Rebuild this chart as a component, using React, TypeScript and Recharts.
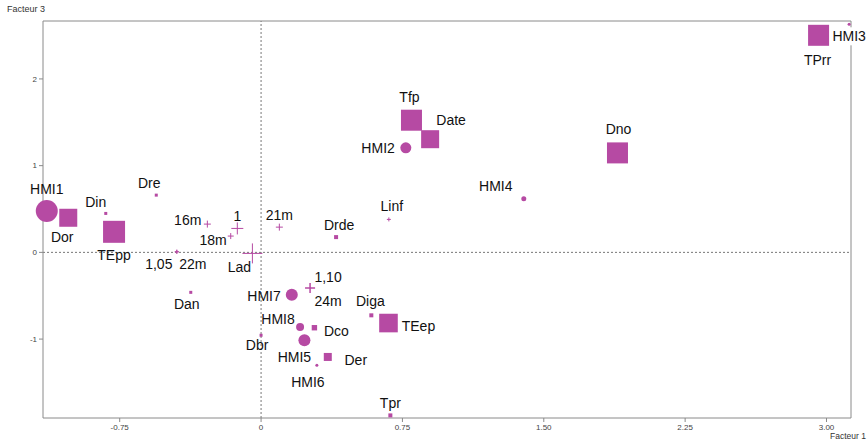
import React from 'react';
import { ScatterChart, Scatter, XAxis, YAxis, ReferenceLine } from 'recharts';

// individuals (circles)
const circleNames = ['HMI1', 'HMI2', 'HMI3', 'HMI4', 'HMI5', 'HMI6', 'HMI7', 'HMI8'];
const circleX = [-1.137, 0.768, 3.12, 1.394, 0.23, 0.296, 0.163, 0.207];
const circleY = [0.476, 1.205, 2.63, 0.617, -1.014, -1.302, -0.488, -0.861];

// active modalities (squares)
const squareNames = ['Dor', 'TEpp', 'Din', 'Dre', 'Dan', 'Dbr', 'Drde', 'Diga', 'TEep', 'Dco', 'Der', 'Tpr', 'Tfp', 'Date', 'Dno', 'TPrr'];
const squareX = [-1.023, -0.78, -0.824, -0.556, -0.373, 0.0, 0.398, 0.585, 0.676, 0.283, 0.354, 0.686, 0.798, 0.897, 1.891, 2.958];
const squareY = [0.399, 0.237, 0.449, 0.66, -0.461, -0.956, 0.176, -0.726, -0.815, -0.869, -1.206, -1.88, 1.524, 1.305, 1.147, 2.503];

// supplementary (crosses)
const plusNames = ['16m', '1', '18m', 'Lad', '21m', 'Linf', '1,10', '24m', '1,05', '22m'];
const plusX = [-0.285, -0.126, -0.161, -0.046, 0.097, 0.678, 0.26, 0.26, -0.447, -0.447];
const plusY = [0.326, 0.276, 0.188, -0.012, 0.291, 0.38, -0.411, -0.411, 0.007, 0.007];

const xTicks = [-0.75, 0, 0.75, 1.5, 2.25, 3];
const yTicks = [-1, 0, 1, 2];

const X_MIN = -1.157;
const X_MAX = 3.13;
const Y_MIN = -1.91;
const Y_MAX = 2.668;

const COLOR = '#b64aa3';
const AXIS = '#8a8a8a';
const FONT = '"Liberation Sans", Arial, sans-serif';

// marker half size + label placement
type Look = { s: number; dx: number; dy: number; anchor?: 'start' | 'middle' | 'end'; bg?: boolean };
const looks: Record<string, Look> = {
  HMI1: { s: 11, dx: 0, dy: -22 },
  HMI2: { s: 5.5, dx: -11, dy: 0, anchor: 'end' },
  HMI3: { s: 1.5, dx: 0, dy: 12, bg: true },
  HMI4: { s: 2.5, dx: -28, dy: -13 },
  HMI5: { s: 6, dx: -10, dy: 17 },
  HMI6: { s: 1.5, dx: -9, dy: 17 },
  HMI7: { s: 6, dx: -11, dy: 1, anchor: 'end' },
  HMI8: { s: 4, dx: -22, dy: -8 },
  Dor: { s: 9, dx: -6, dy: 19 },
  TEpp: { s: 11, dx: 0, dy: 23 },
  Din: { s: 1.5, dx: -10, dy: -11 },
  Dre: { s: 1.5, dx: -7, dy: -12 },
  Dan: { s: 1.5, dx: -4, dy: 12 },
  Dbr: { s: 1.5, dx: -4, dy: 10 },
  Drde: { s: 2, dx: 3, dy: -12 },
  Diga: { s: 2, dx: -1, dy: -14 },
  TEep: { s: 9.3, dx: 30, dy: 3 },
  Dco: { s: 2.7, dx: 22, dy: 3 },
  Der: { s: 4, dx: 28, dy: 3 },
  Tpr: { s: 2, dx: 0, dy: -12 },
  Tfp: { s: 10.5, dx: -2, dy: -23 },
  Date: { s: 9, dx: 21, dy: -19 },
  Dno: { s: 10.5, dx: 1, dy: -24 },
  TPrr: { s: 10.5, dx: -1, dy: 25 },
  '16m': { s: 3.5, dx: -6, dy: -4, anchor: 'end' },
  '1': { s: 6, dx: 0, dy: -12 },
  '18m': { s: 3, dx: -4, dy: 4, anchor: 'end' },
  Lad: { s: 10, dx: -13, dy: 14 },
  '21m': { s: 3.5, dx: 0, dy: -12 },
  Linf: { s: 2, dx: 3, dy: -13 },
  '1,10': { s: 5, dx: 18, dy: -11 },
  '24m': { s: 5, dx: 18, dy: 13 },
  '1,05': { s: 2, dx: -18, dy: 12 },
  '22m': { s: 2, dx: 16, dy: 12 },
};

const build = (names: string[], xs: number[], ys: number[]) =>
  names.map((name, i) => ({ name, x: xs[i], y: ys[i] }));

const circles = build(circleNames, circleX, circleY);
const squares = build(squareNames, squareX, squareY);
const pluses = build(plusNames, plusX, plusY);

const PointLabel = ({ cx, cy, name }: { cx: number; cy: number; name: string }) => {
  const l = looks[name];
  const x = cx + l.dx;
  const y = cy + l.dy;
  return (
    <g>
      {l.bg && <rect x={x - 18} y={y - 9} width={36} height={18} fill="#fff" />}
      <text
        x={x}
        y={y}
        textAnchor={l.anchor || 'middle'}
        dominantBaseline="central"
        fontSize={14}
        fontFamily={FONT}
        fill="#111"
      >
        {name}
      </text>
    </g>
  );
};

const makeShape = (kind: 'circle' | 'square' | 'plus') => (props: any) => {
  const { cx, cy, payload } = props;
  const s = looks[payload.name].s;
  let mark;
  if (kind === 'circle') mark = <circle cx={cx} cy={cy} r={s} fill={COLOR} />;
  else if (kind === 'square') mark = <rect x={cx - s} y={cy - s} width={2 * s} height={2 * s} fill={COLOR} />;
  else
    mark = (
      <g stroke={COLOR} strokeWidth={1}>
        <line x1={cx - s} y1={cy} x2={cx + s} y2={cy} />
        <line x1={cx} y1={cy - s} x2={cx} y2={cy + s} />
      </g>
    );
  return (
    <g>
      {mark}
      <PointLabel cx={cx} cy={cy} name={payload.name} />
    </g>
  );
};

const fmtX = (v: number) => (v === 0 ? '0' : v.toFixed(2));

export default function App() {
  return (
    <div style={{ position: 'absolute', left: 0, top: 0, width: 868, height: 443, background: '#fff' }}>
      <div style={{ position: 'absolute', left: 7, top: 4, fontSize: 9, fontFamily: FONT, color: '#333', whiteSpace: 'nowrap' }}>Facteur 3</div>
      <div style={{ position: 'absolute', left: 830, top: 431, fontSize: 8.5, fontFamily: FONT, color: '#333', whiteSpace: 'nowrap' }}>Facteur 1</div>
      <ScatterChart width={868} height={443} margin={{ top: 21, right: 17, bottom: 0, left: 0 }}>
        <XAxis
          type="number"
          dataKey="x"
          domain={[X_MIN, X_MAX]}
          ticks={xTicks}
          tickFormatter={fmtX}
          height={25}
          stroke={AXIS}
          tickSize={4}
          tickMargin={2}
          tick={{ fontSize: 8, fill: '#444', fontFamily: FONT }}
        />
        <YAxis
          type="number"
          dataKey="y"
          domain={[Y_MIN, Y_MAX]}
          ticks={yTicks}
          width={43}
          stroke={AXIS}
          tickSize={4}
          tickMargin={2}
          tick={{ fontSize: 8, fill: '#444', fontFamily: FONT }}
        />
        <ReferenceLine x={X_MAX} stroke={AXIS} />
        <ReferenceLine y={Y_MAX} stroke={AXIS} />
        <ReferenceLine x={0} stroke="#777" strokeDasharray="2 2" />
        <ReferenceLine y={0} stroke="#777" strokeDasharray="2 2" />
        <Scatter data={squares} shape={makeShape('square')} isAnimationActive={false} />
        <Scatter data={circles} shape={makeShape('circle')} isAnimationActive={false} />
        <Scatter data={pluses} shape={makeShape('plus')} isAnimationActive={false} />
      </ScatterChart>
    </div>
  );
}
